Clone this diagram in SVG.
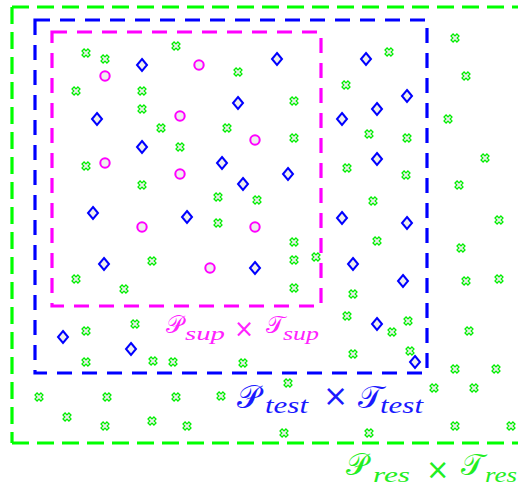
<svg xmlns="http://www.w3.org/2000/svg" xmlns:xlink="http://www.w3.org/1999/xlink" width="518" height="487" viewBox="0 0 518 487">
  <style>
    .frame { fill: none; stroke-width: 3.2; }
    .res { stroke: #00ff00; stroke-dasharray: 17 8; }
    .test { stroke: #0000ff; stroke-dasharray: 15 10; }
    .sup { stroke: #ff00ff; stroke-dasharray: 15 10; }
    .cal { font-family: "DejaVu Serif", "DejaVu Sans", "Liberation Serif", serif; }
    .sub { font-family: "Liberation Serif", "DejaVu Serif", serif; font-style: italic; }
    .times { font-family: "DejaVu Sans", "Liberation Sans", sans-serif; }
  </style>
  <defs>
    <!-- cross marker for the residual sample points -->
    <g id="cross">
      <path transform="rotate(45)" d="M-1.5,-4.2 H1.5 V-1.5 H4.2 V1.5 H1.5 V4.2 H-1.5 V1.5 H-4.2 V-1.5 H-1.5 Z" fill="#eeeeee" stroke="#00ee00" stroke-width="1.2"/>
    </g>
    <!-- diamond marker for test points -->
    <path id="diamond" d="M0,-6 L5,0 L0,6 L-5,0 Z" fill="#eeeeee" stroke="#0000ff" stroke-width="2"/>
    <!-- circle marker for support points -->
    <circle id="ring" r="4.7" fill="#eeeeee" stroke="#ff00ff" stroke-width="2"/>
  </defs>

  <rect width="518" height="487" fill="#ffffff"/>

  <!-- nested dashed regions; the outer one runs off the right edge -->
  <g id="regions">
    <line id="region-res-top" class="frame res" x1="12" y1="7" x2="518" y2="7"/>
    <line id="region-res-left" class="frame res" x1="12" y1="7" x2="12" y2="443"/>
    <line id="region-res-bottom" class="frame res" x1="12" y1="443" x2="518" y2="443"/>
    <rect id="region-test" class="frame test" x="35" y="20" width="392" height="353"/>
    <rect id="region-sup" class="frame sup" x="52" y="32" width="269" height="274"/>
  </g>

  <!-- residual points -->
  <g id="res-points">
    <use xlink:href="#cross" x="86" y="53"/>
    <use xlink:href="#cross" x="105" y="59"/>
    <use xlink:href="#cross" x="176" y="46"/>
    <use xlink:href="#cross" x="238" y="72"/>
    <use xlink:href="#cross" x="76" y="91"/>
    <use xlink:href="#cross" x="142" y="91"/>
    <use xlink:href="#cross" x="142" y="109"/>
    <use xlink:href="#cross" x="161" y="128"/>
    <use xlink:href="#cross" x="227" y="128"/>
    <use xlink:href="#cross" x="180" y="147"/>
    <use xlink:href="#cross" x="455" y="38"/>
    <use xlink:href="#cross" x="389" y="52"/>
    <use xlink:href="#cross" x="346" y="85"/>
    <use xlink:href="#cross" x="466" y="76"/>
    <use xlink:href="#cross" x="294" y="101"/>
    <use xlink:href="#cross" x="448" y="119"/>
    <use xlink:href="#cross" x="369" y="134"/>
    <use xlink:href="#cross" x="407" y="138"/>
    <use xlink:href="#cross" x="294" y="138"/>
    <use xlink:href="#cross" x="485" y="158"/>
    <use xlink:href="#cross" x="86" y="166"/>
    <use xlink:href="#cross" x="142" y="185"/>
    <use xlink:href="#cross" x="218" y="197"/>
    <use xlink:href="#cross" x="257" y="200"/>
    <use xlink:href="#cross" x="218" y="223"/>
    <use xlink:href="#cross" x="152" y="261"/>
    <use xlink:href="#cross" x="76" y="279"/>
    <use xlink:href="#cross" x="124" y="289"/>
    <use xlink:href="#cross" x="347" y="168"/>
    <use xlink:href="#cross" x="406" y="175"/>
    <use xlink:href="#cross" x="459" y="185"/>
    <use xlink:href="#cross" x="373" y="201"/>
    <use xlink:href="#cross" x="499" y="220"/>
    <use xlink:href="#cross" x="294" y="242"/>
    <use xlink:href="#cross" x="377" y="241"/>
    <use xlink:href="#cross" x="461" y="248"/>
    <use xlink:href="#cross" x="294" y="260"/>
    <use xlink:href="#cross" x="316" y="257"/>
    <use xlink:href="#cross" x="466" y="281"/>
    <use xlink:href="#cross" x="499" y="279"/>
    <use xlink:href="#cross" x="294" y="288"/>
    <use xlink:href="#cross" x="353" y="294"/>
    <use xlink:href="#cross" x="86" y="331"/>
    <use xlink:href="#cross" x="135" y="324"/>
    <use xlink:href="#cross" x="86" y="362"/>
    <use xlink:href="#cross" x="153" y="361"/>
    <use xlink:href="#cross" x="173" y="362"/>
    <use xlink:href="#cross" x="243" y="363"/>
    <use xlink:href="#cross" x="39" y="397"/>
    <use xlink:href="#cross" x="107" y="397"/>
    <use xlink:href="#cross" x="176" y="397"/>
    <use xlink:href="#cross" x="221" y="396"/>
    <use xlink:href="#cross" x="67" y="417"/>
    <use xlink:href="#cross" x="105" y="426"/>
    <use xlink:href="#cross" x="152" y="421"/>
    <use xlink:href="#cross" x="187" y="426"/>
    <use xlink:href="#cross" x="347" y="316"/>
    <use xlink:href="#cross" x="408" y="321"/>
    <use xlink:href="#cross" x="392" y="332"/>
    <use xlink:href="#cross" x="469" y="331"/>
    <use xlink:href="#cross" x="353" y="354"/>
    <use xlink:href="#cross" x="410" y="351"/>
    <use xlink:href="#cross" x="288" y="383"/>
    <use xlink:href="#cross" x="455" y="369"/>
    <use xlink:href="#cross" x="496" y="369"/>
    <use xlink:href="#cross" x="434" y="388"/>
    <use xlink:href="#cross" x="474" y="388"/>
    <use xlink:href="#cross" x="284" y="433"/>
    <use xlink:href="#cross" x="369" y="433"/>
    <use xlink:href="#cross" x="455" y="426"/>
    <use xlink:href="#cross" x="511" y="426"/>
  </g>

  <!-- test points -->
  <g id="test-points">
    <use xlink:href="#diamond" x="142" y="65"/>
    <use xlink:href="#diamond" x="238" y="103"/>
    <use xlink:href="#diamond" x="97" y="119"/>
    <use xlink:href="#diamond" x="142" y="147"/>
    <use xlink:href="#diamond" x="222" y="163"/>
    <use xlink:href="#diamond" x="277" y="59"/>
    <use xlink:href="#diamond" x="366" y="59"/>
    <use xlink:href="#diamond" x="407" y="96"/>
    <use xlink:href="#diamond" x="377" y="109"/>
    <use xlink:href="#diamond" x="342" y="119"/>
    <use xlink:href="#diamond" x="377" y="159"/>
    <use xlink:href="#diamond" x="243" y="184"/>
    <use xlink:href="#diamond" x="93" y="213"/>
    <use xlink:href="#diamond" x="187" y="217"/>
    <use xlink:href="#diamond" x="104" y="264"/>
    <use xlink:href="#diamond" x="255" y="268"/>
    <use xlink:href="#diamond" x="288" y="174"/>
    <use xlink:href="#diamond" x="342" y="218"/>
    <use xlink:href="#diamond" x="407" y="223"/>
    <use xlink:href="#diamond" x="353" y="264"/>
    <use xlink:href="#diamond" x="403" y="281"/>
    <use xlink:href="#diamond" x="63" y="337"/>
    <use xlink:href="#diamond" x="131" y="349"/>
    <use xlink:href="#diamond" x="377" y="324"/>
    <use xlink:href="#diamond" x="415" y="362"/>
  </g>

  <!-- support points -->
  <g id="sup-points">
    <use xlink:href="#ring" x="105" y="76"/>
    <use xlink:href="#ring" x="199" y="65"/>
    <use xlink:href="#ring" x="180" y="116"/>
    <use xlink:href="#ring" x="255" y="140"/>
    <use xlink:href="#ring" x="105" y="163"/>
    <use xlink:href="#ring" x="180" y="174"/>
    <use xlink:href="#ring" x="142" y="227"/>
    <use xlink:href="#ring" x="255" y="227"/>
    <use xlink:href="#ring" x="210" y="268"/>
  </g>

  <!-- region labels -->
  <g id="label-sup" fill="#ff22ff">
    <text class="cal" x="166" y="333" font-size="24">𝒫</text>
    <text class="sub" x="185" y="340" font-size="18" textLength="40" lengthAdjust="spacingAndGlyphs">sup</text>
    <text class="times" x="234" y="337" font-size="24">×</text>
    <text class="cal" x="266" y="333" font-size="24">𝒯</text>
    <text class="sub" x="283" y="340" font-size="18" textLength="36" lengthAdjust="spacingAndGlyphs">sup</text>
  </g>
  <g id="label-test" fill="#1a1aff">
    <text class="cal" x="237" y="408" font-size="32">𝒫</text>
    <text class="sub" x="265" y="413" font-size="24" textLength="43" lengthAdjust="spacingAndGlyphs">test</text>
    <text class="times" x="323" y="406" font-size="30">×</text>
    <text class="cal" x="358" y="408" font-size="32">𝒯</text>
    <text class="sub" x="380" y="413" font-size="24" textLength="43" lengthAdjust="spacingAndGlyphs">test</text>
  </g>
  <g id="label-res" fill="#22ee22">
    <text class="cal" x="346" y="475" font-size="30">𝒫</text>
    <text class="sub" x="373" y="482" font-size="22" textLength="37" lengthAdjust="spacingAndGlyphs">res</text>
    <text class="times" x="426" y="479" font-size="28">×</text>
    <text class="cal" x="461" y="475" font-size="30">𝒯</text>
    <text class="sub" x="485" y="482" font-size="22" textLength="32" lengthAdjust="spacingAndGlyphs">res</text>
  </g>
</svg>
